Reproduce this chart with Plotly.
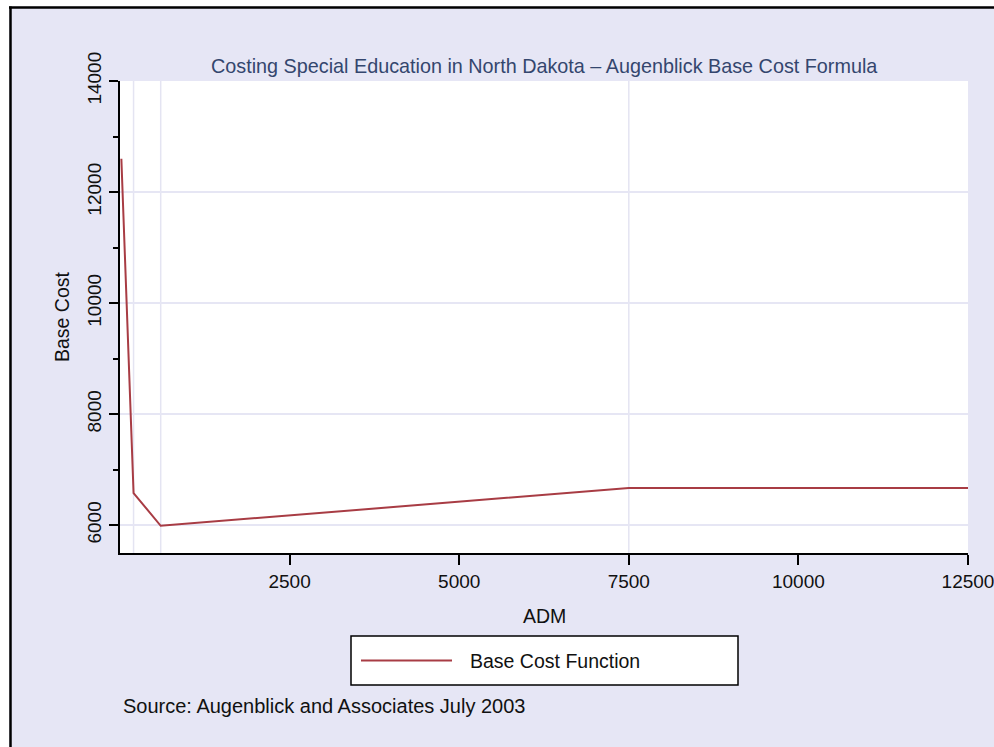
import plotly.graph_objects as go

# ---- data ----
adm = [20, 100, 200, 600, 7500, 12500]
base_cost = [12600, 9800, 6580, 5990, 6670, 6670]
ref_adm = [200, 600, 7500]          # vertical reference lines
x_ticks = [2500, 5000, 7500, 10000, 12500]
y_ticks = [6000, 8000, 10000, 12000, 14000]
series_name = "Base Cost Function"
title_text = "Costing Special Education in North Dakota \u2013 Augenblick Base Cost Formula"
source_text = "Source: Augenblick and Associates July 2003"

W, H = 994, 747
L, R, T, B = 120, 26, 81, 194
PW, PH = W - L - R, H - T - B

def px(xp):
    return (xp - L) / PW

def py(yp):
    return (H - B - yp) / PH

BG = "#E6E6F5"
LINE = "#A83C44"
FONT = "Liberation Sans, Arial, sans-serif"
TXT = "#111111"

fig = go.Figure()
fig.add_trace(go.Scatter(x=adm, y=base_cost, mode="lines", name=series_name,
                         line=dict(color=LINE, width=2), showlegend=False))

shapes = []
for v in ref_adm:
    shapes.append(dict(type="line", xref="x", yref="paper", x0=v, x1=v, y0=0, y1=1,
                       line=dict(color="#E4E4F2", width=1.5), layer="below"))
# page frame: white strip at top/left with black border
shapes += [
    dict(type="rect", xref="paper", yref="paper", x0=px(0), x1=px(W), y0=py(0), y1=py(6.5),
         fillcolor="white", line=dict(width=0)),
    dict(type="rect", xref="paper", yref="paper", x0=px(0), x1=px(9), y0=py(0), y1=py(H),
         fillcolor="white", line=dict(width=0)),
    dict(type="line", xref="paper", yref="paper", x0=px(9), x1=px(W), y0=py(7.5), y1=py(7.5),
         line=dict(color="black", width=2.5)),
    dict(type="line", xref="paper", yref="paper", x0=px(10.5), x1=px(10.5), y0=py(6.5), y1=py(H),
         line=dict(color="black", width=2.5)),
]
# legend box (manual, SAS style)
shapes += [
    dict(type="rect", xref="paper", yref="paper", x0=px(351), x1=px(738), y0=py(636), y1=py(685),
         fillcolor="white", line=dict(color="black", width=1.5)),
    dict(type="line", xref="paper", yref="paper", x0=px(361), x1=px(452), y0=py(660.5), y1=py(660.5),
         line=dict(color=LINE, width=2)),
]

annotations = [
    dict(text=series_name, xref="paper", yref="paper", x=px(468), y=py(660.5),
         xanchor="left", yanchor="middle", showarrow=False,
         font=dict(family=FONT, size=19.5, color=TXT)),
    dict(text=source_text, xref="paper", yref="paper", x=px(121), y=py(706),
         xanchor="left", yanchor="middle", showarrow=False,
         font=dict(family=FONT, size=20, color=TXT)),
    dict(text="ADM", xref="paper", yref="paper", x=0.5, y=py(616),
         xanchor="center", yanchor="middle", showarrow=False,
         font=dict(family=FONT, size=19.5, color=TXT)),
    dict(text="Base Cost", xref="paper", yref="paper", x=px(62), y=0.5, textangle=-90,
         xanchor="center", yanchor="middle", showarrow=False,
         font=dict(family=FONT, size=19.5, color=TXT)),
    dict(text=title_text, xref="paper", yref="paper", x=0.5, y=py(66),
         xanchor="center", yanchor="middle", showarrow=False,
         font=dict(family=FONT, size=19.8, color="#34466E")),
]

fig.update_layout(
    width=W, height=H,
    margin=dict(l=L, r=R, t=T, b=B, autoexpand=False),
    paper_bgcolor=BG, plot_bgcolor="white",
    shapes=shapes, annotations=annotations,
    showlegend=False,
    font=dict(family=FONT, size=19, color=TXT),
)
fig.update_xaxes(range=[0, 12500], tickvals=x_ticks, tickformat="d", ticks="outside", ticklen=10,
                 tickwidth=1.5, tickcolor="black", showline=True, linecolor="black", linewidth=2,
                 showgrid=False, zeroline=False, automargin=False, ticklabeloverflow="allow",
                 tickfont=dict(family=FONT, size=19, color=TXT))
fig.update_yaxes(range=[5500, 14000], tickvals=y_ticks, tickformat="d", ticks="outside", ticklen=9,
                 tickwidth=1.5, tickcolor="black", showline=True, linecolor="black", linewidth=2,
                 showgrid=True, gridcolor="#E6E6F4", gridwidth=1.5, zeroline=False,
                 tickangle=-90, automargin=False, ticklabeloverflow="allow",
                 minor=dict(dtick=1000, tick0=0, ticks="outside", ticklen=5, tickcolor="black",
                            tickwidth=1.5, showgrid=False),
                 tickfont=dict(family=FONT, size=19, color=TXT))

fig.write_html("out.html", config={"displayModeBar": False},
               post_script="document.body.style.margin='0';")
